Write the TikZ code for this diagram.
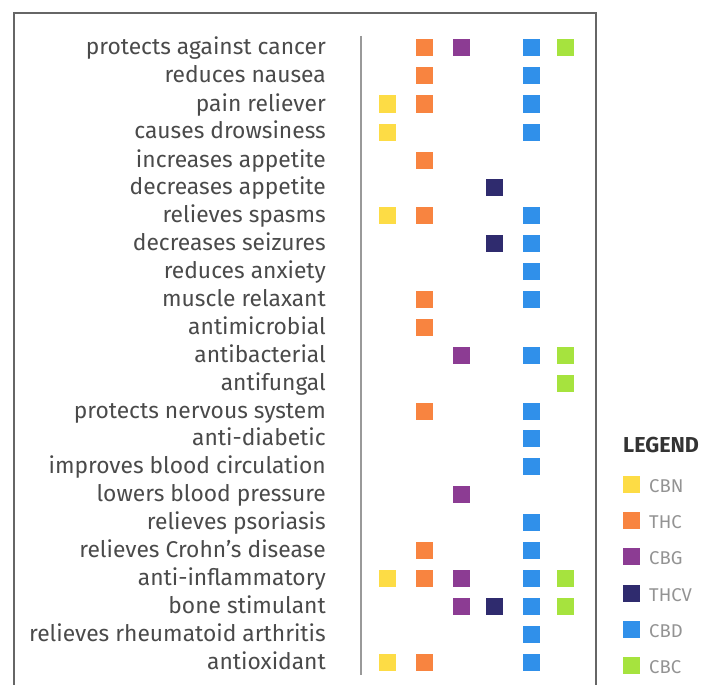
\documentclass[tikz,border=0pt]{standalone}
\usepackage{fontspec}
\setmainfont{Fira Sans}[BoldFont={Fira Sans Bold}]
\definecolor{cbnyellow}{HTML}{FDDC45}
\definecolor{thcorange}{HTML}{F88440}
\definecolor{cbgpurple}{HTML}{8C3C93}
\definecolor{thcvnavy}{HTML}{2F2B6E}
\definecolor{cbdblue}{HTML}{3090EA}
\definecolor{cbcgreen}{HTML}{A6E33E}
\definecolor{labgray}{HTML}{4A4A4A}
\definecolor{leggray}{HTML}{939393}

\begin{document}
\begin{tikzpicture}[x=1pt,y=-1pt,
  sq/.style={minimum size=17pt,inner sep=0pt},
  cbn/.style={sq,fill=cbnyellow},
  thc/.style={sq,fill=thcorange},
  cbg/.style={sq,fill=cbgpurple},
  thcv/.style={sq,fill=thcvnavy},
  cbd/.style={sq,fill=cbdblue},
  cbc/.style={sq,fill=cbcgreen},
  lab/.style={anchor=base east,inner sep=0pt,text=labgray,font=\fontsize{22.8}{26}\selectfont},
  legtxt/.style={anchor=base west,inner sep=0pt,text=leggray,font=\fontsize{18.5}{22}\selectfont}]
\useasboundingbox (0,0) rectangle (702,685);

% frame and separator
\draw[color=black!60,line width=1.2pt] (14,690) -- (14,13) -- (596,13) -- (596,690);
\draw[color=black!40,line width=1.2pt] (361,36) -- (361,675);

% effects
\node (cancer) at (326,55) [lab]{protects against cancer};
\node (nausea) at (326,83) [lab]{reduces nausea};
\node (pain) at (326,111) [lab]{pain reliever};
\node (drowsy) at (326,139) [lab]{causes drowsiness};
\node (incapp) at (326,167) [lab]{increases appetite};
\node (decapp) at (326,194.5) [lab]{decreases appetite};
\node (spasms) at (326,222.5) [lab]{relieves spasms};
\node (seizures) at (326,250.5) [lab]{decreases seizures};
\node (anxiety) at (326,278) [lab]{reduces anxiety};
\node (muscle) at (326,306) [lab]{muscle relaxant};
\node (microb) at (326,334) [lab]{antimicrobial};
\node (bacter) at (326,362) [lab]{antibacterial};
\node (fungal) at (326,390) [lab]{antifungal};
\node (nervous) at (326,418) [lab]{protects nervous system};
\node (diabetic) at (326,445.5) [lab]{anti-diabetic};
\node (blood) at (326,473.5) [lab]{improves blood circulation};
\node (pressure) at (326,501.5) [lab]{lowers blood pressure};
\node (psoriasis) at (326,529) [lab]{relieves psoriasis};
\node (crohn) at (326,557) [lab]{relieves Crohn’s disease};
\node (inflam) at (326,585) [lab]{anti-inflammatory};
\node (bone) at (326,613) [lab]{bone stimulant};
\node (rheuma) at (326,641) [lab]{relieves rheumatoid arthritis};
\node (oxid) at (326,669) [lab]{antioxidant};

% CBN
\node (cbn3) at (387.5,104) [cbn]{};
\node (cbn4) at (387.5,132) [cbn]{};
\node (cbn7) at (387.5,215.5) [cbn]{};
\node (cbn20) at (387.5,578) [cbn]{};
\node (cbn23) at (387.5,662) [cbn]{};
% THC
\node (thc1) at (424.5,48) [thc]{};
\node (thc2) at (424.5,76) [thc]{};
\node (thc3) at (424.5,104) [thc]{};
\node (thc5) at (424.5,160) [thc]{};
\node (thc7) at (424.5,215.5) [thc]{};
\node (thc10) at (424.5,299) [thc]{};
\node (thc11) at (424.5,327) [thc]{};
\node (thc14) at (424.5,411) [thc]{};
\node (thc19) at (424.5,550) [thc]{};
\node (thc20) at (424.5,578) [thc]{};
\node (thc23) at (424.5,662) [thc]{};
% CBG
\node (cbg1) at (461,48) [cbg]{};
\node (cbg12) at (461,355) [cbg]{};
\node (cbg17) at (461,494.5) [cbg]{};
\node (cbg20) at (461,578) [cbg]{};
\node (cbg21) at (461,606) [cbg]{};
% THCV
\node (thcv6) at (494.5,187.5) [thcv]{};
\node (thcv8) at (494.5,243.5) [thcv]{};
\node (thcv21) at (494.5,606) [thcv]{};
% CBD
\node (cbd1) at (531.5,48) [cbd]{};
\node (cbd2) at (531.5,76) [cbd]{};
\node (cbd3) at (531.5,104) [cbd]{};
\node (cbd4) at (531.5,132) [cbd]{};
\node (cbd7) at (531.5,215.5) [cbd]{};
\node (cbd8) at (531.5,243.5) [cbd]{};
\node (cbd9) at (531.5,271) [cbd]{};
\node (cbd10) at (531.5,299) [cbd]{};
\node (cbd12) at (531.5,355) [cbd]{};
\node (cbd14) at (531.5,411) [cbd]{};
\node (cbd15) at (531.5,438.5) [cbd]{};
\node (cbd16) at (531.5,466.5) [cbd]{};
\node (cbd18) at (531.5,522) [cbd]{};
\node (cbd19) at (531.5,550) [cbd]{};
\node (cbd20) at (531.5,578) [cbd]{};
\node (cbd21) at (531.5,606) [cbd]{};
\node (cbd22) at (531.5,634) [cbd]{};
\node (cbd23) at (531.5,662) [cbd]{};
% CBC
\node (cbc1) at (565.5,48) [cbc]{};
\node (cbc12) at (565.5,355) [cbc]{};
\node (cbc13) at (565.5,383) [cbc]{};
\node (cbc20) at (565.5,578) [cbc]{};
\node (cbc21) at (565.5,606) [cbc]{};

% legend
\node (legend) at (623,452) [anchor=base west,inner sep=0pt,text=black!80,font=\fontsize{21.6}{24}\selectfont\bfseries]{LEGEND};
\node (lcbn) at (631,484.5) [cbn]{};
\node (lthc) at (631,520.5) [thc]{};
\node (lcbg) at (631,556.5) [cbg]{};
\node (lthcv) at (631,593) [thcv]{};
\node (lcbd) at (631,629.5) [cbd]{};
\node (lcbc) at (631,665) [cbc]{};
\node (tcbn) at (649,492.5) [legtxt]{CBN};
\node (tthc) at (649,528.5) [legtxt]{THC};
\node (tcbg) at (649,564.5) [legtxt]{CBG};
\node (tthcv) at (649,601) [legtxt]{THCV};
\node (tcbd) at (649,637.5) [legtxt]{CBD};
\node (tcbc) at (649,673) [legtxt]{CBC};
\end{tikzpicture}
\end{document}
